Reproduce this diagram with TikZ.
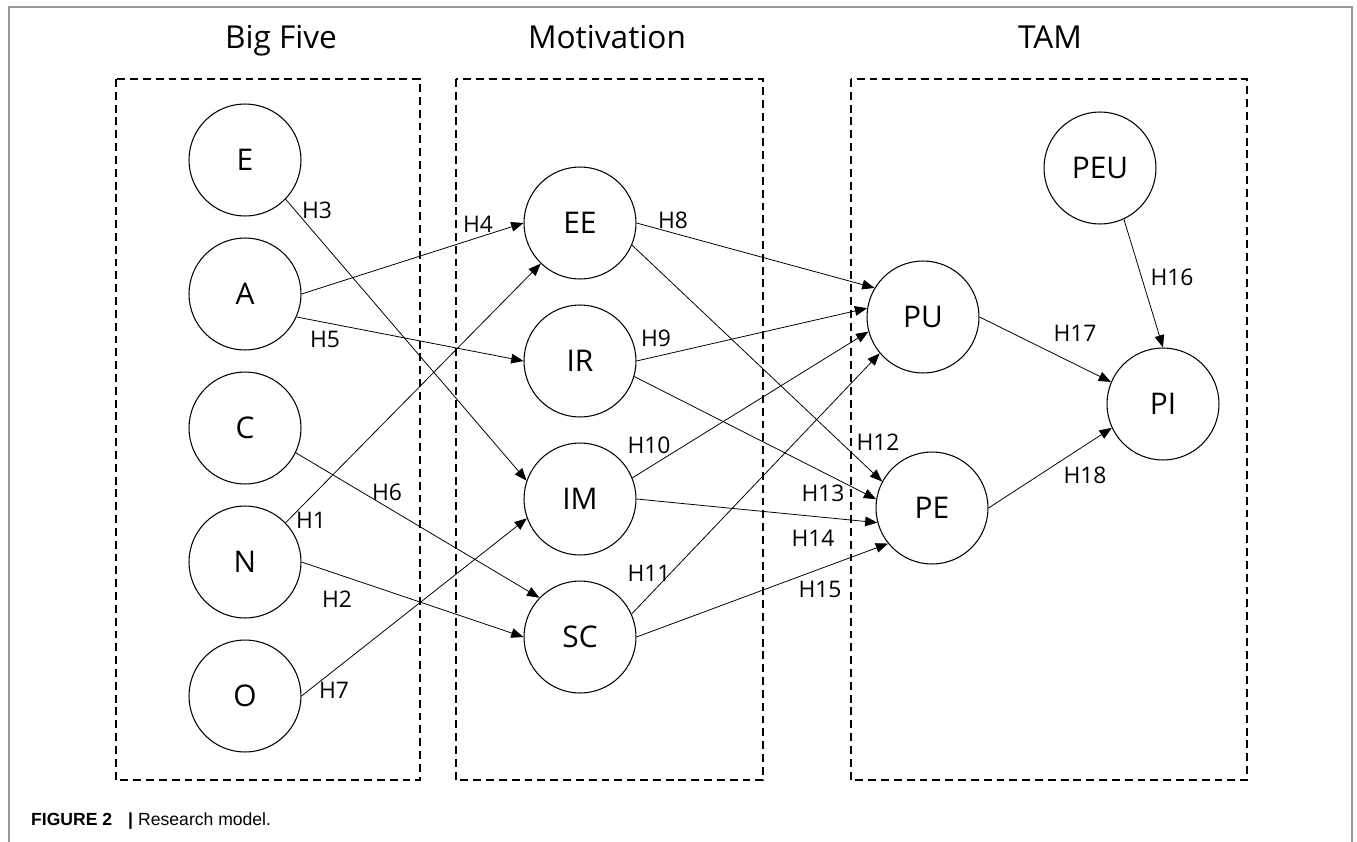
\documentclass[tikz,border=0pt]{standalone}
\usepackage{fontspec}
\setmainfont{Open Sans}
\newfontfamily\capfont{Liberation Sans}
\usetikzlibrary{arrows.meta}

\begin{document}
\begin{tikzpicture}[x=0.02cm, y=-0.02cm, font=\fontsize{13}{15}\selectfont,
    construct/.style={draw, circle, line width=0.6pt, minimum size=2.24cm, inner sep=0pt, font=\fontsize{17}{19}\selectfont},
    group/.style={draw, line width=1.1pt, dash pattern=on 4.5pt off 2.8pt},
    hyp/.style={-{Triangle[length=7pt,width=5.5pt]}, line width=0.45pt},
    title/.style={anchor=base, font=\fontsize{18}{20}\selectfont}]
    \useasboundingbox (0,0) rectangle (1357,842);
    % frame of the figure
    \draw[black!40, line width=0.6pt] (9,842) -- (9,7) -- (1352,7) -- (1352,842);
    % groups
    \draw[group] (116,79) rectangle (420,780);
    \draw[group] (456,79) rectangle (763,780);
    \draw[group] (851,79) rectangle (1247,780);
    \node[title] (bigfive) at (281,48) {Big Five};
    \node[title] (motiv) at (607,48) {Motivation};
    \node[title] (tam) at (1050,48) {TAM};
    % constructs
    \foreach \y/\name in {160/E, 294/A, 428/C, 562/N, 696/O}
        \node[construct] (\name) at (245,\y) {\name};
    \foreach \y/\name in {223/EE, 361/IR, 499/IM, 637/SC}
        \node[construct] (\name) at (580,\y) {\name};
    \node[construct] (PU) at (923,317) {PU};
    \node[construct] (PE) at (932,508) {PE};
    \node[construct] (PEU) at (1100,168) {PEU};
    \node[construct] (PI) at (1163,404) {PI};
    % hypotheses
    \foreach \a/\p/\b/\q in {E/-44/IM/161, A/0/EE/180, A/-24/IR/180, N/44/EE/226,
            C/-26/SC/136, N/0/SC/180, O/0/IM/200, EE/0/PU/149, IR/0/PU/171,
            IM/22/PU/195, SC/24/PU/220, EE/-23/PE/152, IR/-16/PE/171, IM/0/PE/195,
            SC/0/PE/219, PEU/-65/PI/90, PU/0/PI/157, PE/0/PI/205}
        \draw[hyp] (\a.\p) -- (\b.\q);
    \foreach \x/\y/\h in {311/520/1, 337/599/2, 317/210/3, 478/224/4, 325/339/5,
            387/492/6, 334/690/7, 673/220/8, 656/338/9, 649/445/10, 649/573/11,
            878/442/12, 823/493/13, 813/538/14, 820/589/15, 1172/277/16,
            1075/333/17, 1085/475/18}
        \node (h\h) at (\x,\y) {H\h};
    % caption
    \node[anchor=base west, font=\capfont\fontsize{10}{12}\selectfont] (caption) at (25,825)
        {\bfseries FIGURE 2\hspace{9pt}|\hspace{3pt}\mdseries Research model.};
\end{tikzpicture}
\end{document}
